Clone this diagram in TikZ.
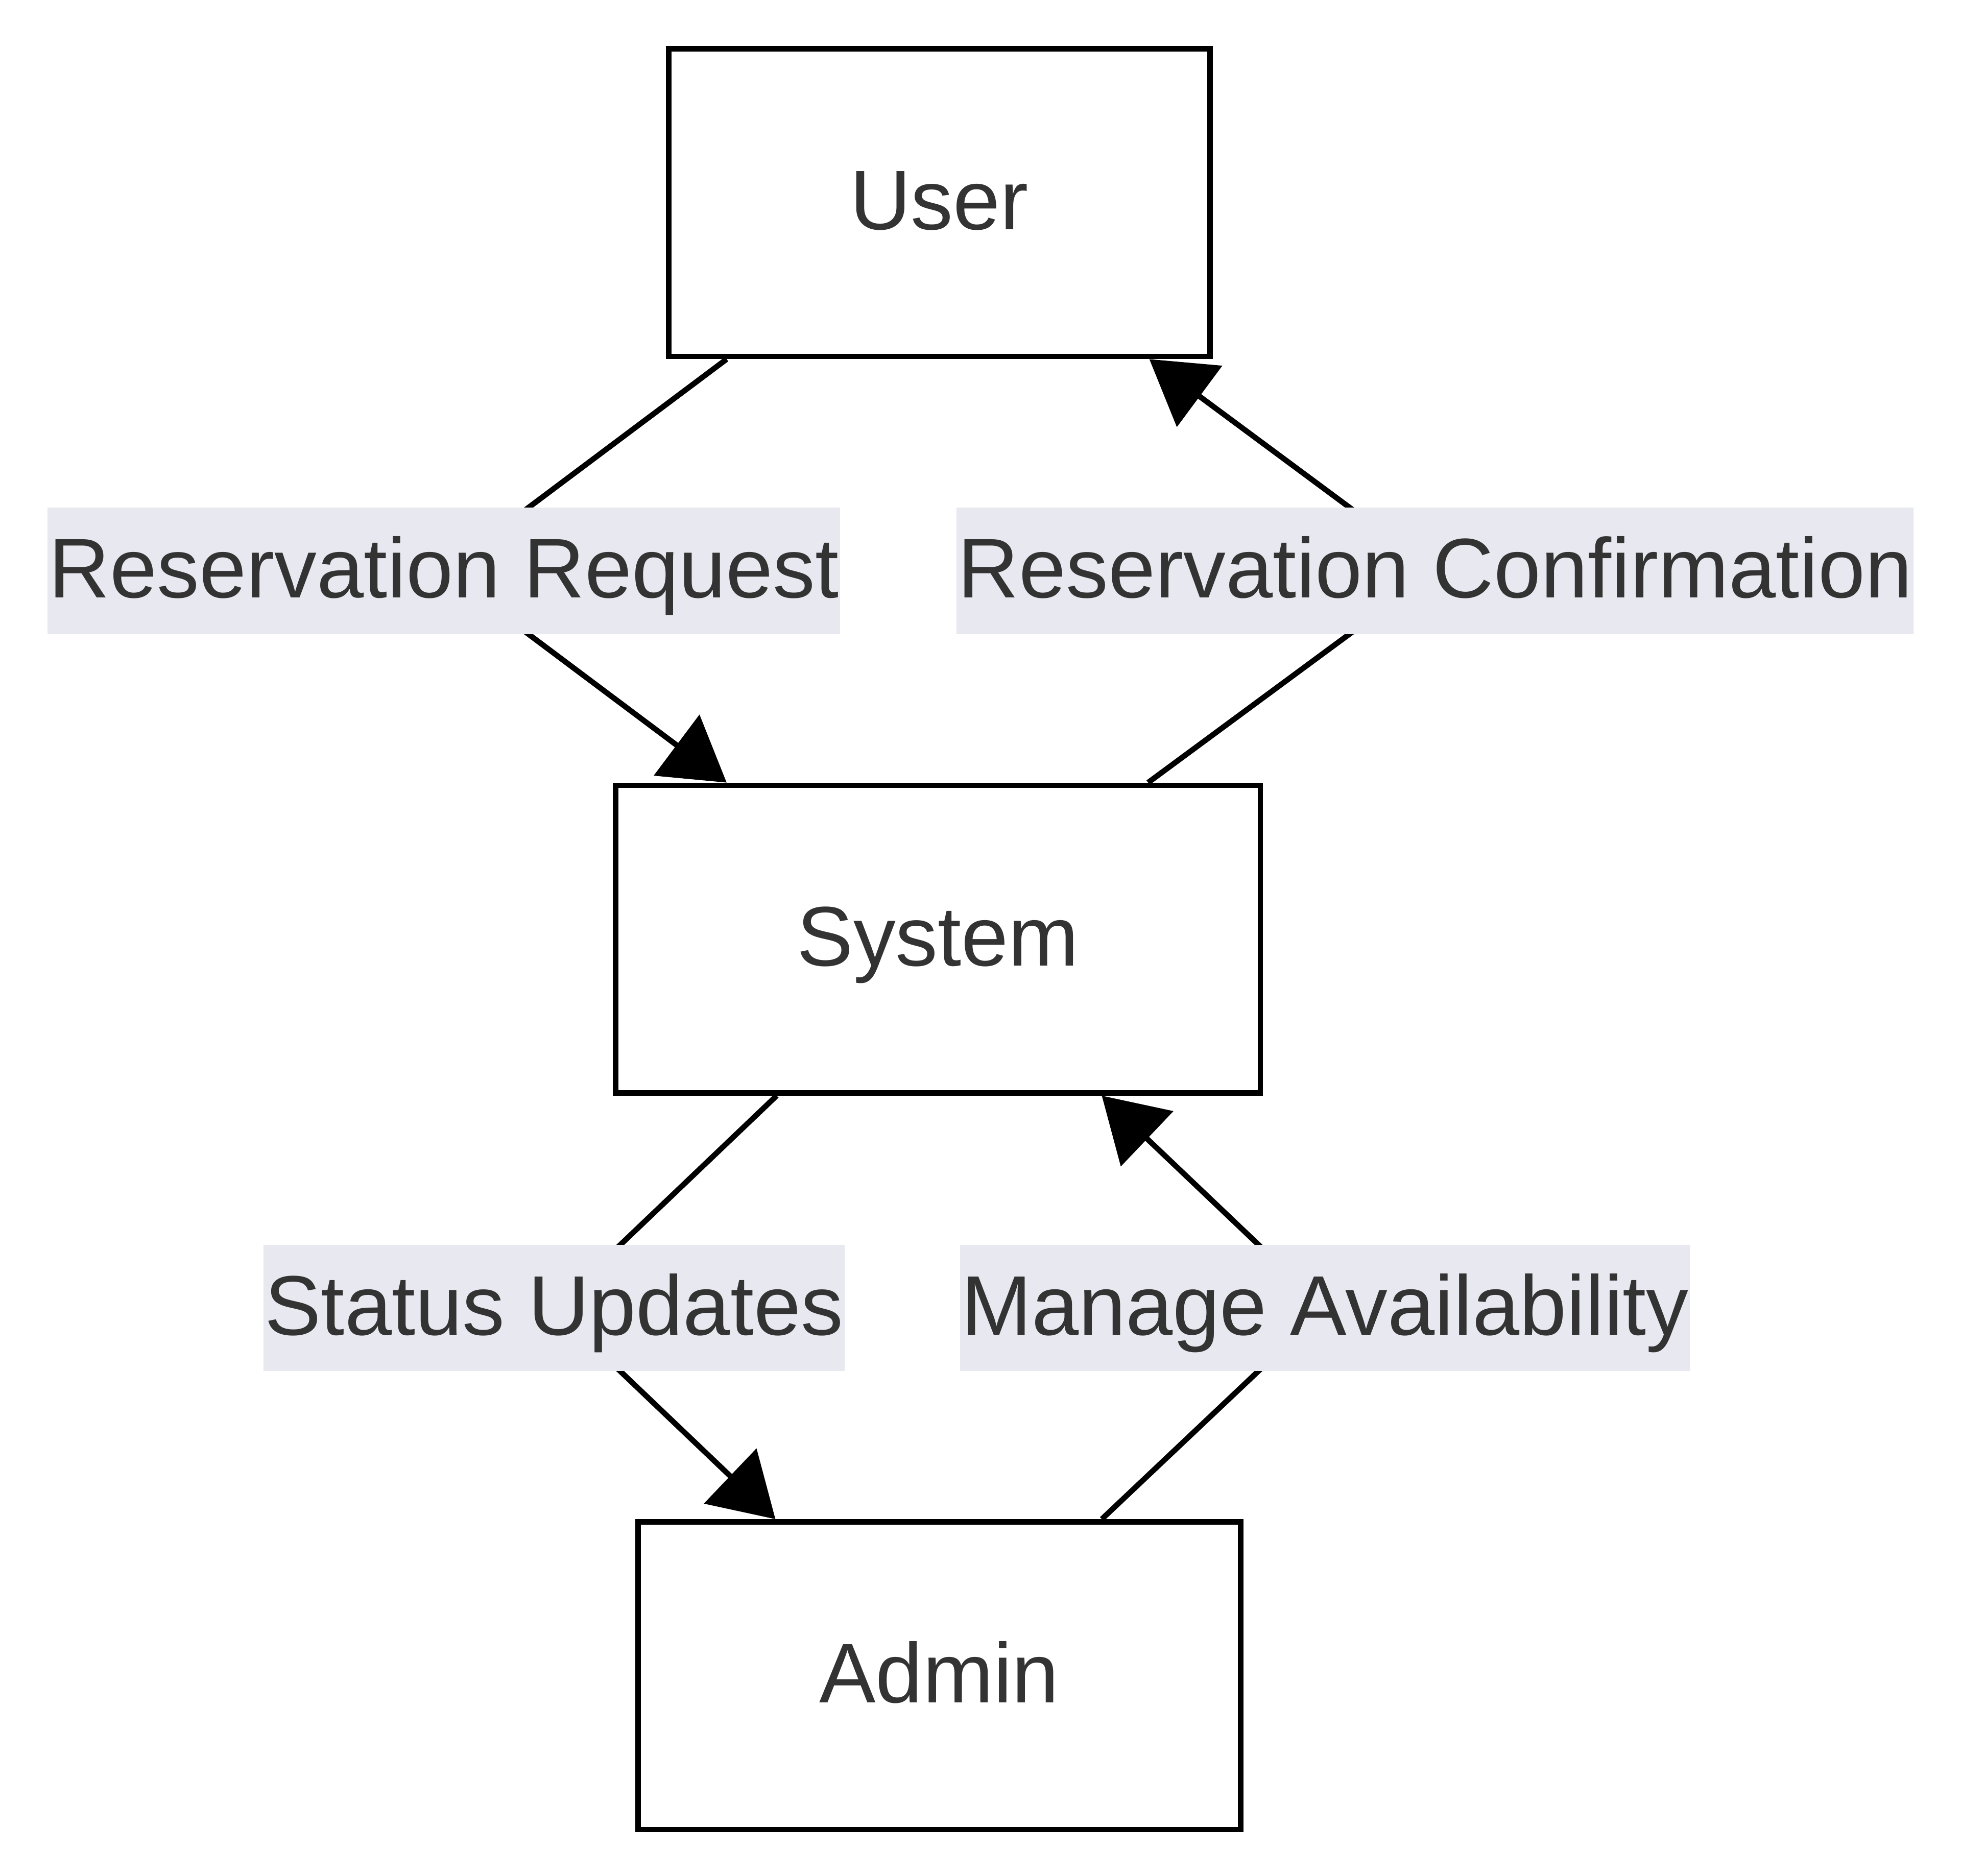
\documentclass[tikz,border=0pt]{standalone}
\usepackage{fontspec}
\setmainfont{Liberation Sans}
\usepackage{xcolor}
\definecolor{lblbg}{RGB}{232,232,240}
\definecolor{txtgray}{RGB}{51,51,51}
\usetikzlibrary{arrows.meta,backgrounds}
\newcommand{\diafont}{\fontsize{19.25pt}{23pt}\selectfont}

\begin{document}
\begin{tikzpicture}[
        box/.style={draw=black, line width=1.25pt, fill=white, text=txtgray, font=\diafont,
            inner xsep=1.45cm, minimum height=2.46cm, text height=0.60cm, text depth=0.17cm},
        edgelbl/.style={fill=lblbg, text=txtgray, font=\diafont, inner xsep=0.01cm, inner ysep=0pt,
            minimum height=1.01cm, text height=0.60cm, text depth=0.17cm},
        flow/.style={draw=black, line width=1.25pt, -{Triangle[length=0.5cm,width=0.6cm]}}
    ]
        \useasboundingbox (0,0) rectangle (15.68,-15.00);
        % actors
        \node[box] (user) at (7.51,-1.62) {User};
        \node[box] (system) at (7.50,-7.51) {System};
        \node[box] (admin) at (7.51,-13.40) {Admin};
        % edge labels
        \node[edgelbl] (lblreq) at (3.55,-4.565) {Reservation Request};
        \node[edgelbl] (lblconf) at (11.475,-4.565) {Reservation Confirmation};
        \node[edgelbl] (lblstat) at (4.43,-10.46) {Status Updates};
        \node[edgelbl] (lblavail) at (10.595,-10.46) {Manage Availability};
        % flows
        \begin{scope}[on background layer]
            \draw[flow] ([xshift=-1.70cm]user.south) -- (lblreq.center) -- ([xshift=-1.69cm]system.north);
            \draw[flow] ([xshift=1.68cm]system.north) -- (lblconf.center) -- ([xshift=1.68cm]user.south);
            \draw[flow] ([xshift=-1.29cm]system.south) -- (lblstat.center) -- ([xshift=-1.31cm]admin.north);
            \draw[flow] ([xshift=1.30cm]admin.north) -- (lblavail.center) -- ([xshift=1.31cm]system.south);
        \end{scope}
    \end{tikzpicture}
\end{document}
